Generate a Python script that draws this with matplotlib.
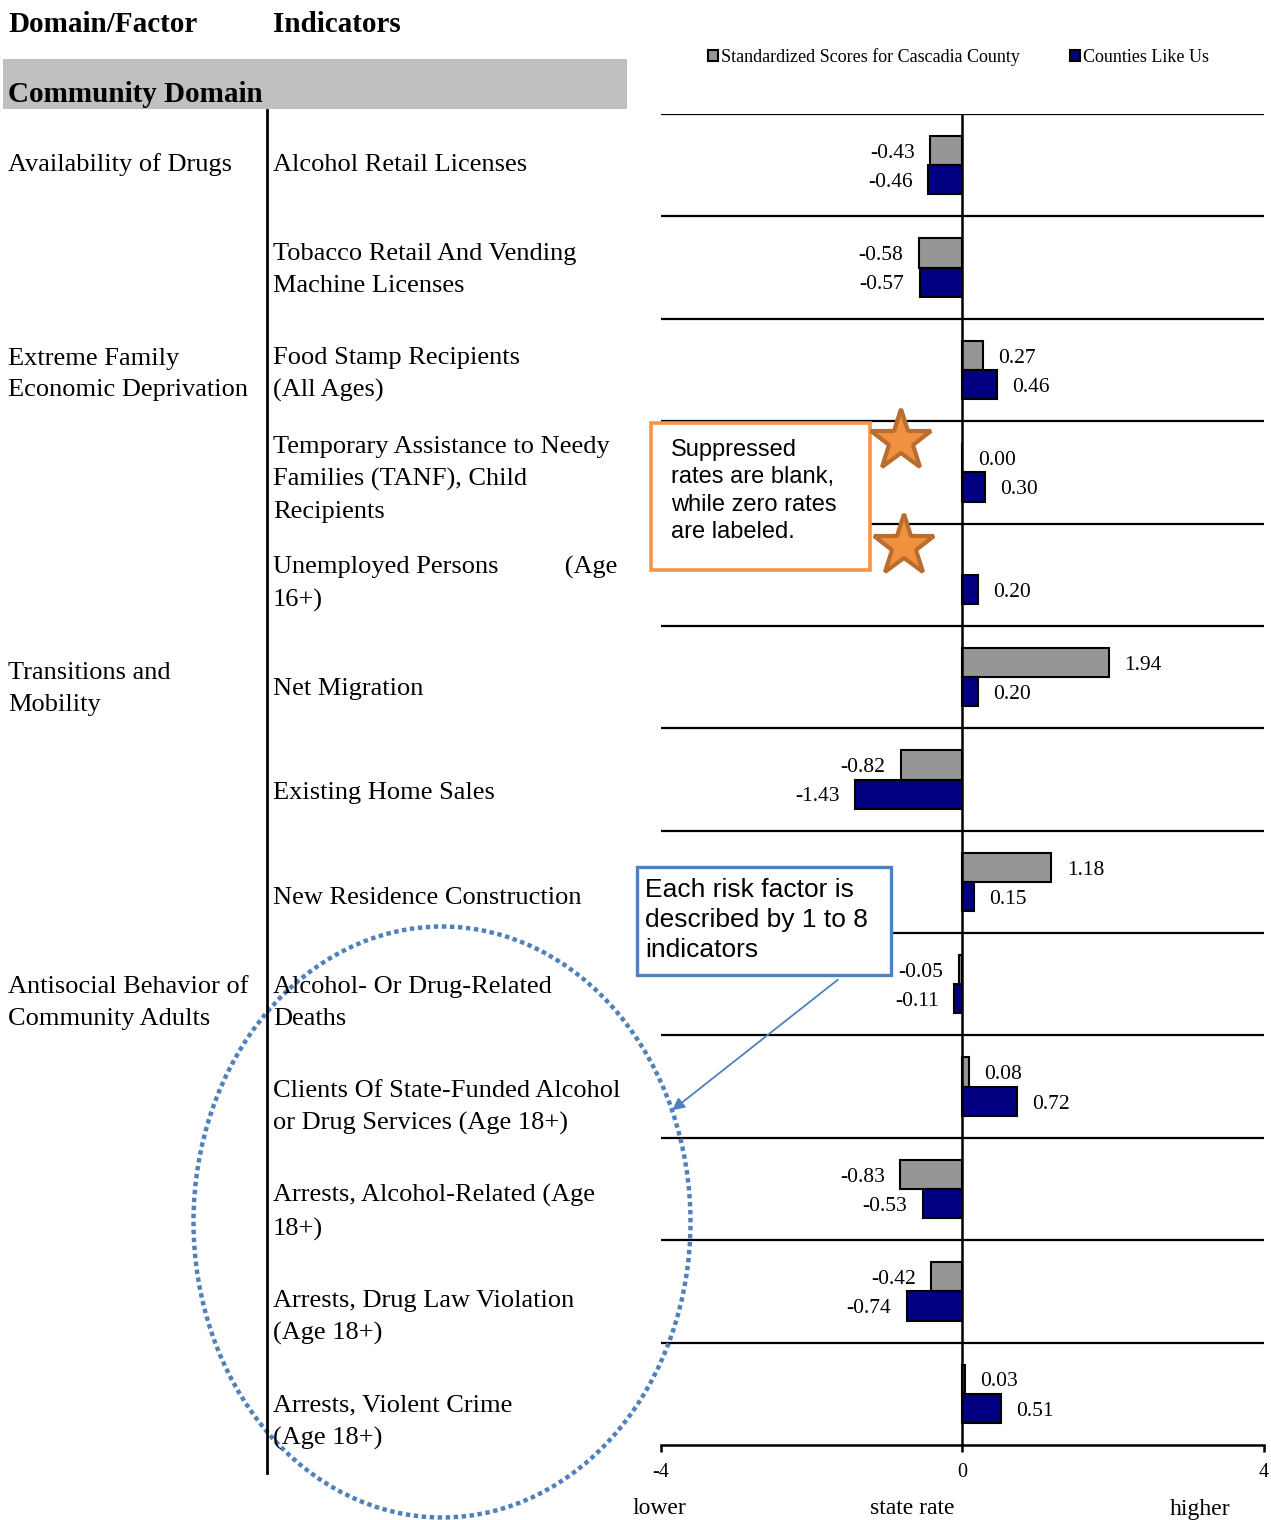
import numpy as np
import matplotlib
matplotlib.use("Agg")
import matplotlib.pyplot as plt
from matplotlib.patches import Rectangle, Ellipse

# ---------------- data ----------------
factors = ["Availability of Drugs", "Extreme Family\nEconomic Deprivation",
           "Transitions and\nMobility", "Antisocial Behavior of\nCommunity Adults"]
factor_rows = [0, 2, 5, 8]
indicators = [
    "Alcohol Retail Licenses",
    "Tobacco Retail And Vending\nMachine Licenses",
    "Food Stamp Recipients\n(All Ages)",
    "Temporary Assistance to Needy\nFamilies (TANF), Child\nRecipients",
    "Unemployed Persons          (Age\n16+)",
    "Net Migration",
    "Existing Home Sales",
    "New Residence Construction",
    "Alcohol- Or Drug-Related\nDeaths",
    "Clients Of State-Funded Alcohol\nor Drug Services (Age 18+)",
    "Arrests, Alcohol-Related (Age\n18+)",
    "Arrests, Drug Law Violation\n(Age 18+)",
    "Arrests, Violent Crime\n(Age 18+)",
]
county = [-0.43, -0.58, 0.27, 0.00, np.nan, 1.94, -0.82, 1.18, -0.05, 0.08, -0.83, -0.42, 0.03]
like_us = [-0.46, -0.57, 0.46, 0.30, 0.20, 0.20, -1.43, 0.15, -0.11, 0.72, -0.53, -0.74, 0.51]
series_names = ["Standardized Scores for Cascadia County", "Counties Like Us"]
xticks = [-4, 0, 4]

W, H = 1271, 1520
SERIF = "Liberation Serif"
SANS = "Liberation Sans"
GRAY = "#969696"
NAVY = "#000080"
BLUE = "#4f81bd"
ORANGE = "#f79646"

fig = plt.figure(figsize=(W / 100, H / 100), dpi=100)

# ---------------- bar chart ----------------
ax_l, ax_r, ax_t, ax_b = 661, 1264, 114, 1445
ax = fig.add_axes([ax_l / W, 1 - ax_b / H, (ax_r - ax_l) / W, (ax_b - ax_t) / H])
n = len(indicators)
centers = np.arange(n) + 0.5
h = 0.285
c = np.array(county, dtype=float)
u = np.array(like_us, dtype=float)
b1 = ax.barh(centers - h / 2, np.nan_to_num(c), height=h, color=GRAY, edgecolor="black",
             linewidth=1.5, label=series_names[0], zorder=3)
for rect, v in zip(b1, c):
    if np.isnan(v):
        rect.set_visible(False)
b2 = ax.barh(centers + h / 2, u, height=h, color=NAVY, edgecolor="black",
             linewidth=1.5, label=series_names[1], zorder=3)

for ys, vals in ((centers - h / 2, c), (centers + h / 2, u)):
    for yc, v in zip(ys, vals):
        if np.isnan(v):
            continue
        ax.annotate(f"{v:.2f}", (v, yc), xytext=(11 if v >= 0 else -11, -2),
                    textcoords="offset points", ha="left" if v >= 0 else "right",
                    va="center", fontsize=15.5, family=SERIF)

ax.set_xlim(-4, 4)
ax.set_ylim(n, 0)
for k in range(n):
    ax.axhline(k, color="black", lw=1.6, zorder=1)
ax.axvline(0, color="black", lw=1.8, zorder=4)
for s in ["top", "left", "right"]:
    ax.spines[s].set_visible(False)
ax.spines["bottom"].set_linewidth(1.8)
ax.set_yticks([])
ax.set_xticks(xticks)
ax.set_xticklabels([str(t) for t in xticks], family=SERIF, fontsize=14.5)
ax.tick_params(axis="x", direction="out", length=5, width=1.8, pad=8)
ax.patch.set_alpha(0)

fig.legend(handles=[b1, b2], labels=series_names, loc="center left",
           bbox_to_anchor=(708 / W, 1 - 57 / H), ncol=2, frameon=False,
           prop={"family": SERIF, "size": 13}, handlelength=0.55, handleheight=0.55,
           handletextpad=0.15, columnspacing=2.8, borderaxespad=0, borderpad=0)

# ---------------- overlay (table, annotations) ----------------
ov = fig.add_axes([0, 0, 1, 1], zorder=10)
ov.set_xlim(0, W)
ov.set_ylim(H, 0)
ov.axis("off")
ov.patch.set_alpha(0)

ov.text(8, 24, "Domain/Factor", family=SERIF, weight="bold", fontsize=21, va="center", ha="left")
ov.text(273, 24, "Indicators", family=SERIF, weight="bold", fontsize=21, va="center", ha="left")
ov.add_patch(Rectangle((3, 59), 624, 50, facecolor="#c0c0c0", edgecolor="none"))
ov.text(8, 94, "Community Domain", family=SERIF, weight="bold", fontsize=21, va="center", ha="left")
ov.plot([267, 267], [110, 1473], color="black", lw=2)

row_y = lambda i: 165 + i * 104.75
for i, lab in enumerate(indicators):
    ov.text(273, row_y(i), lab, family=SERIF, fontsize=19, va="center", ha="left", linespacing=1.58)
for f, r in zip(factors, factor_rows):
    ov.text(8, row_y(r), f, family=SERIF, fontsize=19, va="center", ha="left", linespacing=1.58)

ov.text(659, 1509, "lower", family=SERIF, fontsize=17, ha="center", va="center")
ov.text(912, 1509, "state rate", family=SERIF, fontsize=17, ha="center", va="center")
ov.text(1200, 1509, "higher", family=SERIF, fontsize=17, ha="center", va="center")

# orange note
ov.add_patch(Rectangle((651, 423), 219, 147, facecolor="white", edgecolor=ORANGE, lw=2.6))
ov.text(671, 491, "Suppressed\nrates are blank,\nwhile zero rates\nare labeled.", family=SANS,
        fontsize=17, ha="left", va="center", linespacing=1.30)
ov.plot([901, 904], [441, 546], ls="none", marker="*", ms=46, mfc="#f0913f", mec="#b96d2f", mew=3)

# blue note
ov.add_patch(Rectangle((637, 867), 254, 108, facecolor="white", edgecolor=BLUE, lw=2.4))
ov.text(645, 920, "Each risk factor is\ndescribed by 1 to 8\nindicators", family=SANS,
        fontsize=19, ha="left", va="center", linespacing=1.34)
ov.annotate("", xy=(670, 1112), xytext=(840, 978),
            arrowprops=dict(arrowstyle="-|>", color=BLUE, lw=1.3, mutation_scale=18))

ov.add_patch(Ellipse((442, 1222), 497, 591, fill=False, edgecolor=BLUE, lw=3.2,
                     ls=(0, (1, 0.8))))

fig.savefig("out.png", dpi=100)
